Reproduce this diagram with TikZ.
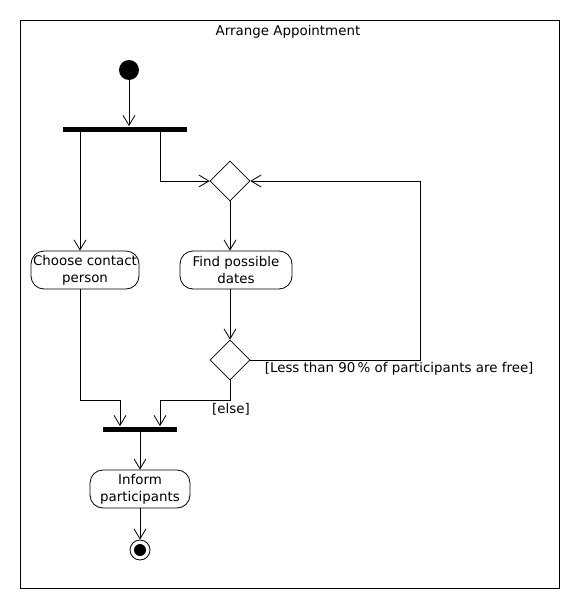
\documentclass[tikz,border=0pt]{standalone}
\usepackage{fontspec}
\setmainfont{DejaVu Sans}
\usetikzlibrary{arrows.meta,shapes.geometric,calc}
\begin{document}
\begin{tikzpicture}[x=1pt,y=-1pt,line width=0.8pt,
  every node/.style={font=\fontsize{13.4}{17}\selectfont},
  arr/.style={-{Straight Barb[length=10pt,width=12pt,line width=0.8pt]}},
  act/.style={draw,rounded corners=13pt,minimum height=38pt,align=center,inner sep=1pt},
  bar/.style={fill=black,minimum height=5pt,inner sep=0pt},
  dec/.style={draw,diamond,minimum width=40pt,minimum height=40pt,inner sep=0pt,aspect=1}]
\useasboundingbox (0,0) rectangle (580,610);
\draw (20,20) rectangle (559,588);
\node (title) at (288,32) {Arrange Appointment};
\node[circle,fill=black,minimum size=20pt,inner sep=0pt] (start) at (129,70) {};
\node[bar,minimum width=124pt] (bar1) at (125,129) {};
\node[dec] (d1) at (230,181) {};
\node[act,minimum width=108pt] (choose) at (85,270) {Choose contact\\person};
\node[act,minimum width=112pt] (find) at (236,270) {Find possible\\dates};
\node[dec] (d2) at (230,360) {};
\node[bar,minimum width=74pt] (bar2) at (140,429) {};
\node[act,minimum width=100pt] (inform) at (140,489) {Inform\\participants};
\node[circle,draw,minimum size=20pt,inner sep=0pt] (end) at (140,550) {};
\node[circle,fill=black,minimum size=12pt,inner sep=0pt] (endin) at (end) {};
\coordinate (chin) at ([xshift=-5pt]choose.north);
\coordinate (m) at ($(d2.south)+(0,20)$);
\draw[arr] (start) -- (start |- bar1.north);
\draw[arr] (bar1.south -| chin) -- (chin);
\draw[arr] ([xshift=35pt]bar1.south) |- (d1.west);
\draw[arr] (d1.south) -- (d1.south |- find.north);
\draw[arr] (find.south -| d2) -- (d2.north);
\draw[arr] (d2.east) -- ++(170,0) |- (d1.east);
\node[anchor=north west,inner sep=0pt] (lbl1) at ([xshift=14pt,yshift=-2pt]d2.east) {[Less than 90\,\% of participants are free]};
\draw[arr] (d2.south) -- (m) -| ([xshift=20pt]bar2.north);
\node (lbl2) at (231,409) {[else]};
\draw[arr] (chin |- choose.south) -- (chin |- m) -| ([xshift=-20pt]bar2.north);
\draw[arr] (bar2.south) -- (inform.north);
\draw[arr] (inform.south) -- (end.north);
\end{tikzpicture}
\end{document}
